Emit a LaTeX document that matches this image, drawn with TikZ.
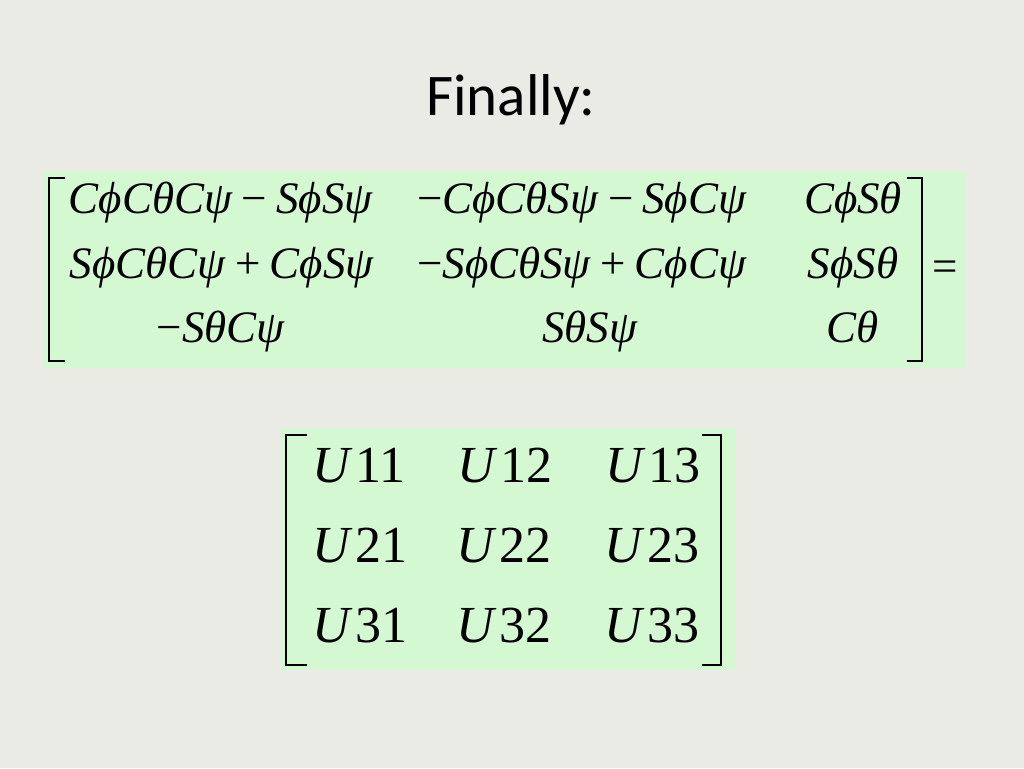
\documentclass[tikz,border=0pt]{standalone}
\usepackage{fontspec}
\setmainfont{Liberation Serif}
\newfontfamily\titlefont{Carlito}
\definecolor{bg}{HTML}{E9EBE4}
\definecolor{boxgreen}{HTML}{D4F8D2}
\tikzset{
  ent/.style={anchor=base, inner sep=0pt, font=\fontsize{45}{45}\selectfont},
  entu/.style={anchor=base, inner sep=0pt, font=\fontsize{52}{52}\selectfont},
  brack/.style={line width=2.6pt, line join=miter},
  panel/.style={fill=boxgreen, draw=none}
}
\newcommand{\mi}[1]{\textit{#1}}
\newcommand{\opsp}{\hspace{0.2em}}
\newcommand{\usp}{\hspace{0.06em}}
\begin{document}
\begin{tikzpicture}[x=1pt,y=-1pt]
\fill[bg] (0,0) rectangle (1024,768);
\useasboundingbox (0,0) rectangle (1024,768);
% title
\node[anchor=base, inner sep=0pt, font=\titlefont\fontsize{59}{59}\selectfont] (title) at (511,115) {Finally:};
% first matrix
\fill[panel] (43,171) rectangle (965,368);
\node[ent] (a11) at (221,213) {\mi{CϕCθCψ}\opsp−\opsp\mi{SϕSψ}};
\node[ent] (a12) at (582,213) {−\mi{CϕCθSψ}\opsp−\opsp\mi{SϕCψ}};
\node[ent] (a13) at (853,213) {\mi{CϕSθ}};
\node[ent] (a21) at (222,278) {\mi{SϕCθCψ}\opsp+\opsp\mi{CϕSψ}};
\node[ent] (a22) at (582,278) {−\mi{SϕCθSψ}\opsp+\opsp\mi{CϕCψ}};
\node[ent] (a23) at (853,278) {\mi{SϕSθ}};
\node[ent] (a31) at (221,342) {−\mi{SθCψ}};
\node[ent] (a32) at (590,342) {\mi{SθSψ}};
\node[ent] (a33) at (853,342) {\mi{Cθ}};
\draw[brack] (65,178) -- (49,178) -- (49,361) -- (65,361);
\draw[brack] (907,178) -- (922,178) -- (922,361) -- (907,361);
\node[ent] (eq) at (945,281) {=};
% second matrix
\fill[panel] (282,428) rectangle (735,670);
\node[entu] (u11) at (359,482) {\mi{U}\usp11};
\node[entu] (u12) at (505,482) {\mi{U}\usp12};
\node[entu] (u13) at (653,482) {\mi{U}\usp13};
\node[entu] (u21) at (360,562) {\mi{U}\usp21};
\node[entu] (u22) at (504,562) {\mi{U}\usp22};
\node[entu] (u23) at (652,562) {\mi{U}\usp23};
\node[entu] (u31) at (360,642) {\mi{U}\usp31};
\node[entu] (u32) at (504,642) {\mi{U}\usp32};
\node[entu] (u33) at (652,642) {\mi{U}\usp33};
\draw[brack] (307,435) -- (286,435) -- (286,665) -- (307,665);
\draw[brack] (702,435) -- (721,435) -- (721,665) -- (702,665);
\end{tikzpicture}
\end{document}
